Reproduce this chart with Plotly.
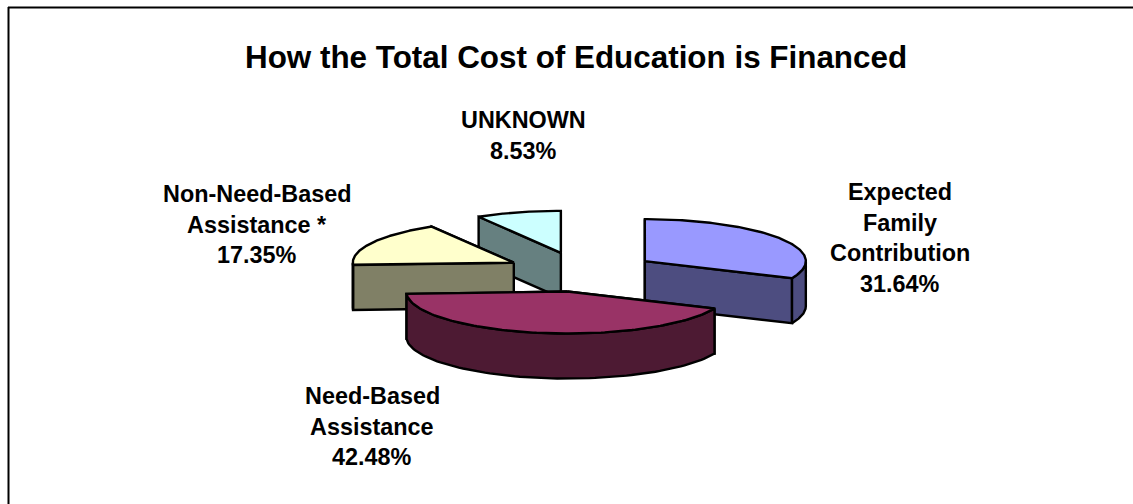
import numpy as np
import plotly.graph_objects as go

# Data
categories = ["Expected Family Contribution", "Need-Based Assistance",
              "Non-Need-Based Assistance *", "UNKNOWN"]
values = [31.64, 42.48, 17.35, 8.53]
label_lines = [["Expected", "Family", "Contribution", "31.64%"],
               ["Need-Based", "Assistance", "42.48%"],
               ["Non-Need-Based", "Assistance *", "17.35%"],
               ["UNKNOWN", "8.53%"]]
top_colors = ["#9999FF", "#993366", "#FFFFCC", "#CCFFFF"]
side_colors = ["#4D4D80", "#4D1A33", "#808066", "#668080"]
title_text = "How the Total Cost of Education is Financed"

# Layout constants (page pixels)
PW, PH = 1133, 504
CX, CY = 581, 272
RX, RY = 161, 42
DEPTH = 45
EXPLODE = 0.473
LW = 2.4
label_pos = [(900, 192, 30.7), (372, 396, 30.7), (256.5, 194, 30.7), (523, 120, 31)]
draw_order = [3, 2, 0, 1]

total = sum(values)
edges = np.concatenate([[0], np.cumsum(values)]) / total * 2 * np.pi


def rim(ax, ay, t):
    return ax + RX * np.sin(t), ay - RY * np.cos(t)


fig = go.Figure()


def poly(x, y, color):
    x = list(x) + [x[0]]
    y = list(y) + [y[0]]
    fig.add_trace(go.Scatter(x=x, y=y, mode="lines", fill="toself", fillcolor=color,
                             line=dict(color="black", width=LW), hoverinfo="skip",
                             showlegend=False))


for i in draw_order:
    a0, a1 = edges[i], edges[i + 1]
    mid = (a0 + a1) / 2
    ax = CX + EXPLODE * RX * np.sin(mid)
    ay = CY - EXPLODE * RY * np.cos(mid)
    faces = []
    for a in (a0, a1):
        rx, ry = rim(ax, ay, a)
        faces.append(([ax, rx, rx, ax], [ay, ry, ry + DEPTH, ay + DEPTH]))
    faces.sort(key=lambda f: np.mean(f[1]))
    for fx, fy in faces:
        poly(fx, fy, side_colors[i])
    lo, hi = max(a0, np.pi / 2), min(a1, 3 * np.pi / 2)
    if hi > lo:
        t = np.linspace(lo, hi, 80)
        x, y = rim(ax, ay, t)
        poly(np.r_[x, x[::-1]], np.r_[y, y[::-1] + DEPTH], side_colors[i])
    t = np.linspace(a0, a1, 120)
    x, y = rim(ax, ay, t)
    poly(np.r_[ax, x], np.r_[ay, y], top_colors[i])

annotations = [dict(x=576, y=57, text=f"<b>{title_text}</b>", showarrow=False,
                    xref="x", yref="y", font=dict(size=31.4, color="black",
                                                  family="Liberation Sans"))]
for lines, (lx, ly, step) in zip(label_lines, label_pos):
    for k, line in enumerate(lines):
        annotations.append(dict(x=lx, y=ly + k * step, text=f"<b>{line}</b>", showarrow=False,
                                xref="x", yref="y",
                                font=dict(size=23.4, color="black", family="Liberation Sans")))

fig.update_layout(
    width=PW, height=PH,
    margin=dict(l=0, r=0, t=0, b=0),
    paper_bgcolor="white", plot_bgcolor="white",
    xaxis=dict(range=[0, PW], visible=False, fixedrange=True),
    yaxis=dict(range=[PH, 0], visible=False, fixedrange=True),
    annotations=annotations,
    shapes=[dict(type="line", x0=8, x1=PW, y0=7.5, y1=7.5, xref="x", yref="y",
                 line=dict(color="black", width=2)),
            dict(type="line", x0=8.5, x1=8.5, y0=7, y1=PH, xref="x", yref="y",
                 line=dict(color="black", width=2))],
)
fig.write_html("out.html", config={"displayModeBar": False},
               post_script="document.body.style.margin='0';document.body.style.overflow='hidden';")
